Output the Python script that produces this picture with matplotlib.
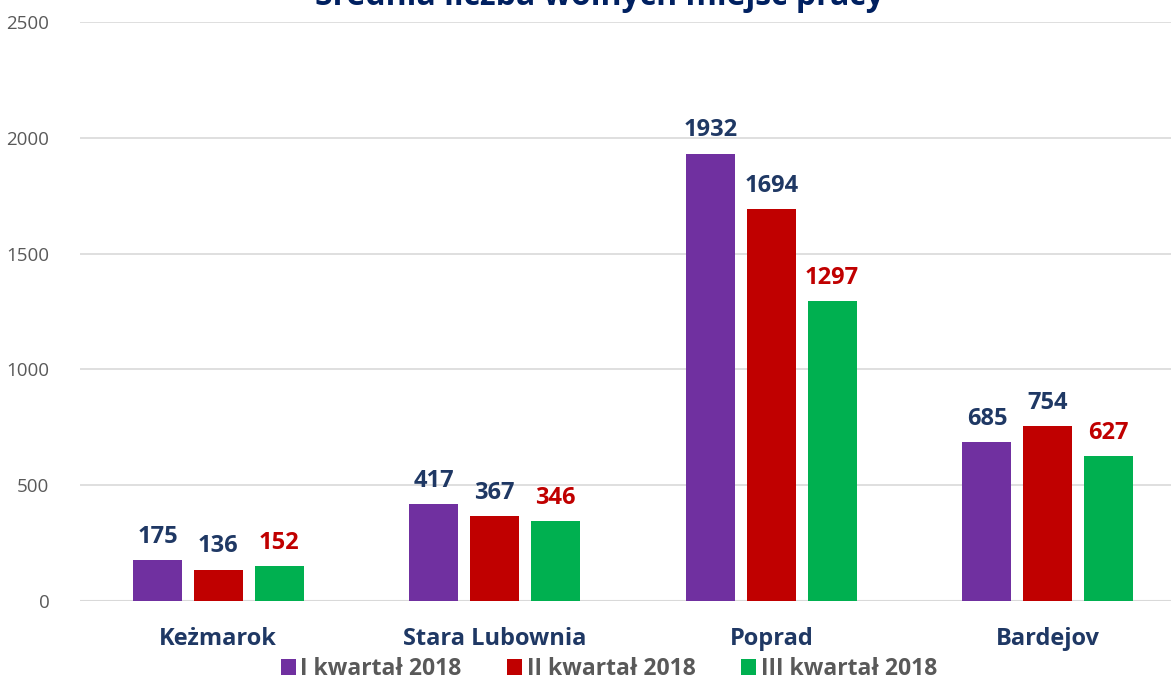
import matplotlib.pyplot as plt
import numpy as np
from matplotlib.patches import Patch

plt.rcParams['font.family'] = ['Open Sans', 'DejaVu Sans']

title = 'Średnia liczba wolnych miejsc pracy'
miasta = ['Keżmarok', 'Stara Lubownia', 'Poprad', 'Bardejov']
serie = ['I kwartał 2018', 'II kwartał 2018', 'III kwartał 2018']
q1 = [175, 417, 1932, 685]
q2 = [136, 367, 1694, 754]
q3 = [152, 346, 1297, 627]
kolory = ['#7030A0', '#C00000', '#00B050']
kolory_etykiet = ['#1F3864', '#1F3864', '#C00000']
granat = '#1F3864'

fig = plt.figure(figsize=(11.71, 6.81), dpi=100)
# axis spans 80px..1186px horizontally, 601px..22px vertically
ax = fig.add_axes([80 / 1171, (681 - 601) / 681, 1106 / 1171, 579 / 681])

x = np.arange(len(miasta))
szer = 0.177
krok = 0.22
for i, dane in enumerate([q1, q2, q3]):
    pos = x + (i - 1) * krok
    bars = ax.bar(pos, dane, width=szer, color=kolory[i], zorder=3)
    for b, v in zip(bars, dane):
        ax.annotate(str(v), (b.get_x() + b.get_width() / 2, v),
                    xytext=(0, 8), textcoords='offset points',
                    ha='center', va='bottom', fontsize=17, fontweight='bold',
                    color=kolory_etykiet[i])

ax.set_xlim(-0.5, 3.5)
ax.set_ylim(0, 2500)
ax.set_yticks(range(0, 2501, 500))
ax.yaxis.grid(True, color='#D9D9D9', linewidth=1.2, zorder=0)
ax.set_axisbelow(True)
for s in ax.spines.values():
    s.set_visible(False)
ax.tick_params(axis='y', length=0, pad=22, labelsize=13.5, labelcolor='#595959')
ax.set_xticks(x)
ax.set_xticklabels(miasta, fontsize=17, fontweight='bold', color=granat)
ax.tick_params(axis='x', length=0, pad=19)
ax.axhline(0, color='#D9D9D9', linewidth=1.5, zorder=2)

# tytuł ucięty u góry, jak w oryginale
fig.text(0.512, 1.0 + 6 / 681, title, ha='center', va='center',
         fontsize=23, fontweight='bold', color='#002060')

uchwyty = [Patch(facecolor=k, edgecolor='none') for k in kolory]
fig.legend(uchwyty, serie, loc='center', bbox_to_anchor=(609 / 1171, 1 - 669 / 681),
           ncol=3, frameon=False, handlelength=0.65, handleheight=0.65,
           handletextpad=0.2, columnspacing=2.0,
           prop={'size': 16.5, 'weight': 'bold'}, labelcolor='#595959')

fig.savefig('out.png', dpi=100)
